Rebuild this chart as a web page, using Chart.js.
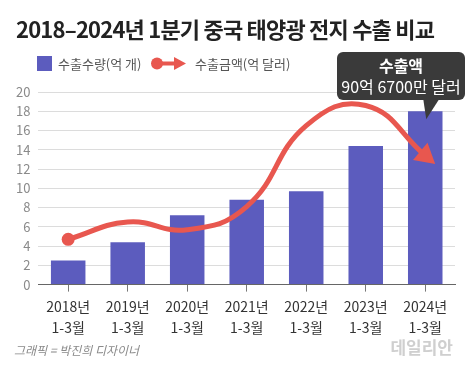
<!DOCTYPE html>
<html>
<head>
<meta charset="utf-8">
<script src="https://cdn.jsdelivr.net/npm/chart.js@4"></script>
<style>
  html, body { margin: 0; padding: 0; background: #fff; }
  #wrap { width: 470px; height: 365px; position: relative; }
</style>
</head>
<body>
<div id="wrap"><canvas id="solarChart" width="470" height="365"></canvas></div>
<script>
// categories and values
const years = ["2018년", "2019년", "2020년", "2021년", "2022년", "2023년", "2024년"];
const period = "1-3월";
const exportQty = [2.5, 4.4, 7.2, 8.8, 9.7, 14.4, 18.0];          // 수출수량(억 개)
const exportTrend = [4.7, 6.5, 5.7, 8.1, 16.5, 18.6, 13.4];       // 수출금액(억 달러) - 추세 화살표
const yTicks = [0, 2, 4, 6, 8, 10, 12, 14, 16, 18, 20];

const titleText = "2018–2024년 1분기 중국 태양광 전지 수출 비교";
const calloutLines = ["수출액", "90억 6700만 달러"];
const sourceText = "그래픽 = 박진희 디자이너";
const logoText = "데일리안";

const FONT = "'Noto Sans CJK KR', 'Noto Sans', sans-serif";
const barColor = "#5c5cbe";
const lineColor = "#e8574f";

// title, legend, callout and footer
const decorPlugin = {
    id: "decor",
    afterDraw(chart) {
        const ctx = chart.ctx;
        const x = chart.scales.x, y = chart.scales.y;
        ctx.save();

        // title
        ctx.fillStyle = "#222";
        ctx.font = "bold 22px " + FONT;
        ctx.letterSpacing = "-0.8px";
        ctx.textBaseline = "middle";
        ctx.textAlign = "left";
        ctx.fillText(titleText, 16, 30);
        ctx.letterSpacing = "0px";

        // legend
        ctx.font = "13px " + FONT;
        ctx.fillStyle = barColor;
        ctx.fillRect(37, 56, 15, 15);
        ctx.fillStyle = "#555";
        ctx.fillText(chart.data.datasets[0].label, 58, 64);

        ctx.strokeStyle = lineColor;
        ctx.fillStyle = lineColor;
        ctx.lineWidth = 4;
        ctx.beginPath(); ctx.moveTo(155, 63.5); ctx.lineTo(176, 63.5); ctx.stroke();
        ctx.beginPath(); ctx.arc(157, 63.5, 6, 0, Math.PI * 2); ctx.fill();
        ctx.beginPath(); ctx.moveTo(174, 57); ctx.lineTo(186, 63.5); ctx.lineTo(174, 70); ctx.closePath(); ctx.fill();
        ctx.fillStyle = "#555";
        ctx.fillText(chart.data.datasets[1].label, 195, 64);

        // callout on the 2024 bar
        const bx = x.getPixelForValue(6), by = y.getPixelForValue(exportQty[6]);
        const left = 337, right = 465, top = 52, bottom = 100;
        ctx.fillStyle = "#3a3a3a";
        ctx.beginPath();
        ctx.roundRect(left, top, right - left, bottom - top, 6);
        ctx.fill();
        ctx.beginPath();
        ctx.moveTo(bx - 2, bottom - 1);
        ctx.lineTo(bx + 14, bottom - 1);
        ctx.lineTo(bx + 1, by + 8);
        ctx.closePath();
        ctx.fill();
        ctx.fillStyle = "#fff";
        ctx.textAlign = "center";
        ctx.font = "bold 16px " + FONT;
        ctx.fillText(calloutLines[0], (left + right) / 2, 66);
        ctx.font = "16px " + FONT;
        ctx.fillText(calloutLines[1], (left + right) / 2, 87);

        // footer
        ctx.textAlign = "left";
        ctx.fillStyle = "#8a8a8a";
        ctx.font = "italic 12px " + FONT;
        ctx.fillText(sourceText, 14, 350);
        ctx.textAlign = "right";
        ctx.fillStyle = "#cfcfcf";
        ctx.font = "bold 17px " + FONT;
        ctx.fillText(logoText, 453, 348);
        ctx.restore();
    }
};

function renderChart() {
    const ctx = document.getElementById("solarChart").getContext("2d");
    const n = exportTrend.length;
    new Chart(ctx, {
        data: {
            labels: years.map(yr => [yr, period]),
            datasets: [{
                type: "bar",
                label: "수출수량(억 개)",
                data: exportQty,
                backgroundColor: barColor,
                categoryPercentage: 1,
                barPercentage: 0.58,
                order: 2
            }, {
                type: "line",
                label: "수출금액(억 달러)",
                data: exportTrend,
                borderColor: lineColor,
                borderWidth: 5,
                tension: 0.45,
                borderCapStyle: "round",
                pointStyle: exportTrend.map((v, i) => i === n - 1 ? "triangle" : "circle"),
                pointRadius: exportTrend.map((v, i) => i === 0 ? 6.5 : (i === n - 1 ? 13 : 0)),
                pointRotation: exportTrend.map((v, i) => i === n - 1 ? 130 : 0),
                pointBackgroundColor: lineColor,
                pointBorderWidth: 0,
                pointHoverRadius: 0,
                order: 1
            }]
        },
        options: {
            responsive: false,
            animation: false,
            events: [],
            layout: { padding: { top: 92, left: 8, right: 15, bottom: 22 } },
            plugins: {
                legend: { display: false },
                title: { display: false },
                tooltip: { enabled: false }
            },
            scales: {
                x: {
                    grid: { display: true, offset: false, drawOnChartArea: false, drawTicks: true, tickLength: 7, color: "#777" },
                    border: { display: true, color: "#666", width: 1 },
                    ticks: { color: "#333", font: { family: FONT, size: 14, lineHeight: 1.55 }, padding: 4, maxRotation: 0 }
                },
                y: {
                    min: 0,
                    max: 20,
                    afterBuildTicks: axis => { axis.ticks = yTicks.map(v => ({ value: v })); },
                    grid: { color: "#dcdcdc", drawTicks: false },
                    border: { display: false },
                    ticks: { color: "#8a8a8a", font: { family: FONT, size: 13 }, padding: 8 }
                }
            }
        },
        plugins: [decorPlugin]
    });
}

document.addEventListener("DOMContentLoaded", renderChart);
</script>
</body>
</html>
